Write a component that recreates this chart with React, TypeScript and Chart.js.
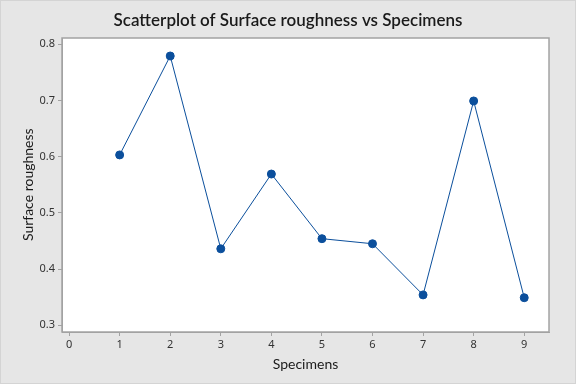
import React, { useEffect, useRef } from "react";
import { Chart, registerables } from "chart.js";

Chart.register(...registerables);

const specimens = [1, 2, 3, 4, 5, 6, 7, 8, 9];
const roughness = [0.603, 0.779, 0.436, 0.569, 0.454, 0.445, 0.354, 0.699, 0.349];
const xTicks = [0, 1, 2, 3, 4, 5, 6, 7, 8, 9];
const yTicks = [0.3, 0.4, 0.5, 0.6, 0.7, 0.8];

const chartTitle = "Scatterplot of Surface roughness vs Specimens";
const xTitle = "Specimens";
const yTitle = "Surface roughness";

const FONT = "Lato, 'Noto Sans', sans-serif";
const TICKFONT = "'Noto Sans', 'Open Sans', sans-serif";
const BLUE = "#0b4f9c";
const FRAME = "#a3a3a3";
const TEXT = "#1a1a1a";

const bgPlugin = {
  id: "bgPlugin",
  beforeDraw(chart: any) {
    const { ctx, width, height, chartArea } = chart;
    ctx.save();
    ctx.fillStyle = "#e6e6e6";
    ctx.fillRect(0, 0, width, height);
    ctx.strokeStyle = "#d4d4d4";
    ctx.lineWidth = 1;
    ctx.strokeRect(0.5, 0.5, width - 1, height - 1);
    ctx.fillStyle = "#ffffff";
    ctx.fillRect(chartArea.left, chartArea.top, chartArea.right - chartArea.left, chartArea.bottom - chartArea.top);
    ctx.restore();
  },
  afterDraw(chart: any) {
    const { ctx, chartArea, scales, width } = chart;
    ctx.save();
    ctx.strokeStyle = FRAME;
    ctx.lineWidth = 1.5;
    ctx.strokeRect(chartArea.left, chartArea.top, chartArea.right - chartArea.left, chartArea.bottom - chartArea.top);

    const ys = scales.y;
    const xMid = (chartArea.left + chartArea.right) / 2;
    const yMid = (ys.getPixelForValue(yTicks[0]) + ys.getPixelForValue(yTicks[yTicks.length - 1])) / 2;

    ctx.fillStyle = TEXT;
    ctx.textAlign = "center";
    ctx.textBaseline = "middle";
    ctx.font = `600 17px ${FONT}`;
    ctx.fillText(chartTitle, width / 2, 21);

    ctx.font = `14px ${FONT}`;
    ctx.fillText(xTitle, xMid, 364);

    ctx.translate(28, yMid);
    ctx.rotate(-Math.PI / 2);
    ctx.fillText(yTitle, 0, 0);
    ctx.restore();
  },
};

export default function App() {
  const ref = useRef<HTMLCanvasElement>(null);
  useEffect(() => {
    document.body.style.margin = "0";
    const chart = new Chart(ref.current as HTMLCanvasElement, {
      type: "scatter",
      data: {
        datasets: [
          {
            data: specimens.map((x, i) => ({ x, y: roughness[i] })),
            showLine: true,
            borderColor: BLUE,
            backgroundColor: BLUE,
            borderWidth: 1,
            pointRadius: 4,
            pointBackgroundColor: BLUE,
            pointBorderColor: BLUE,
          },
        ],
      },
      options: {
        animation: false,
        responsive: false,
        layout: { padding: { left: 0, right: 27, top: 38, bottom: 0 } },
        plugins: {
          legend: { display: false },
          tooltip: { enabled: false },
          title: { display: false },
        },
        scales: {
          x: {
            type: "linear",
            min: -0.14,
            max: 9.49,
            afterBuildTicks: (s: any) => {
              s.ticks = xTicks.map((v) => ({ value: v }));
            },
            afterFit: (s: any) => {
              s.height = 52;
            },
            grid: { display: true, drawOnChartArea: false, drawTicks: true, tickLength: 4, color: FRAME },
            border: { display: true, color: FRAME, width: 1 },
            ticks: { color: "#333333", font: { family: TICKFONT, size: 11 }, padding: 2, maxRotation: 0 },
          },
          y: {
            type: "linear",
            min: 0.288,
            max: 0.811,
            afterBuildTicks: (s: any) => {
              s.ticks = yTicks.map((v) => ({ value: v }));
            },
            afterFit: (s: any) => {
              s.width = 62;
            },
            grid: { display: true, drawOnChartArea: false, drawTicks: true, tickLength: 4, color: FRAME },
            border: { display: true, color: FRAME, width: 1 },
            ticks: {
              color: "#333333",
              font: { family: TICKFONT, size: 11 },
              padding: 3,
              callback: (v: any) => Number(v).toFixed(1),
            },
          },
        },
      },
      plugins: [bgPlugin],
    } as any);
    return () => chart.destroy();
  }, []);
  return (
    <div style={{ position: "absolute", left: 0, top: 0, width: 576, height: 384 }}>
      <canvas ref={ref} width={576} height={384} style={{ display: "block" }} />
    </div>
  );
}
